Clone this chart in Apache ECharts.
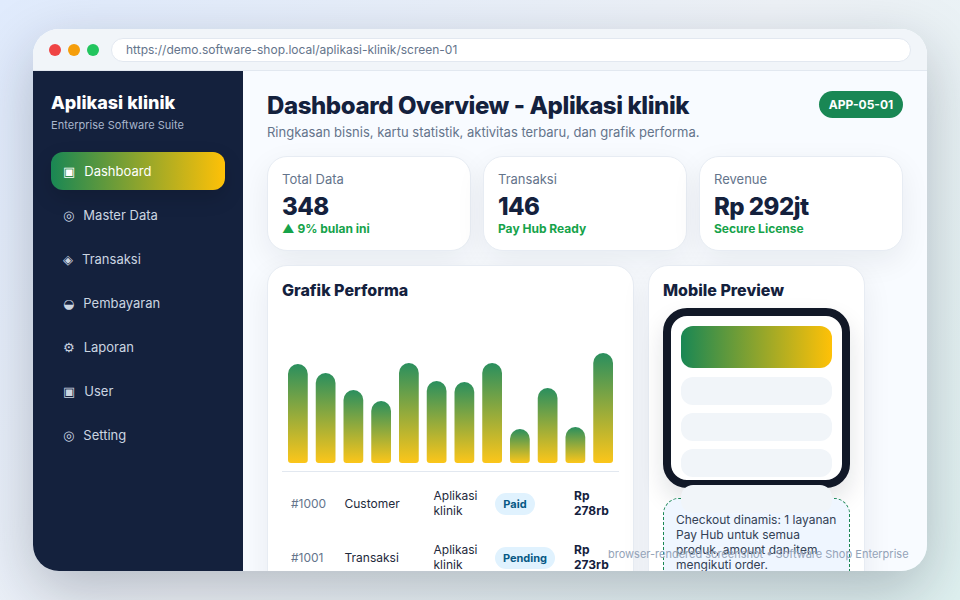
<!DOCTYPE html>
<html lang="id"><head><meta charset="utf-8">
<script src="https://cdn.jsdelivr.net/npm/echarts@6/dist/echarts.min.js"></script>
<style>
*{box-sizing:border-box}
html,body{margin:0;width:960px;height:600px;overflow:hidden;font-family:Inter,"DejaVu Sans",sans-serif;background:linear-gradient(135deg,#e0ebfd 0%,#eef2f7 50%,#dff1f0 100%)}
.win{position:absolute;left:33px;top:29px;width:894px;height:542px;border-radius:26px;overflow:hidden;background:#f8fbff}
.shadow{position:absolute;left:33px;top:29px;width:894px;height:542px;border-radius:26px;box-shadow:0 20px 60px rgba(15,23,42,.25)}
.top{position:absolute;left:0;top:0;width:894px;height:42px;background:#f1f5f9;border-bottom:1px solid #e2e8f0}
.dot{position:absolute;top:15px;width:12px;height:12px;border-radius:50%}
.url{position:absolute;left:78px;top:9px;width:800px;height:24px;border-radius:12px;background:#fff;border:1px solid #e2e8f0;color:#64748b;font-size:12px;line-height:22px;padding-left:14px}
.side{position:absolute;left:0;top:42px;width:210px;height:500px;background:#14213d}
.brand{position:absolute;left:18px;top:21px;color:#fff;font-size:18px;font-weight:800;line-height:22px}
.sub{position:absolute;left:18px;top:46px;color:#a9b6cc;font-size:11px;line-height:16px;letter-spacing:.03px}
.nav{position:absolute;left:18px;width:174px;height:38px;border-radius:12px;color:#cbd5e1;font-size:13px;line-height:38px;padding-left:12px;white-space:nowrap}
.nav i{font-style:normal;font-weight:700;display:inline-block;margin-right:9px}
.nav.on{background:linear-gradient(90deg,#198754,#ffc107);color:#fff;box-shadow:0 8px 20px rgba(0,0,0,.15)}
h1{position:absolute;left:234px;top:62px;margin:0;font-size:24px;line-height:30px;font-weight:800;letter-spacing:-.4px;color:#14213d;white-space:nowrap}
.lead{position:absolute;left:234px;top:94px;color:#64748b;font-size:13px;line-height:18px;white-space:nowrap}
.badge{position:absolute;left:786px;top:62px;width:84px;height:27px;border-radius:14px;background:#198754;color:#fff;font-size:12px;font-weight:700;line-height:27px;text-align:center}
.card{position:absolute;background:#fff;border:1px solid #e7ecf3;border-radius:20px;box-shadow:0 10px 30px rgba(15,23,42,.07)}
.stat{top:127px;height:95px}
.l{position:absolute;left:14px;top:13px;font-size:13px;line-height:18px;color:#64748b}
.v{position:absolute;left:14px;top:35px;font-size:24px;line-height:30px;font-weight:800;letter-spacing:-.55px;color:#14213d;white-space:nowrap}
.s{position:absolute;left:14px;top:63px;font-size:12px;line-height:18px;font-weight:700;color:#16a34a;white-space:nowrap}
.h{position:absolute;left:14px;top:13px;font-size:16px;line-height:22px;font-weight:800;color:#14213d;white-space:nowrap}
#chart{position:absolute;left:234px;top:274px;width:367px;height:170px}
.rule{position:absolute;left:249px;top:442px;width:337px;height:1px;background:#e2e8f0}
.t{position:absolute;font-size:12px;line-height:15px;color:#1e293b;white-space:nowrap}
.g{color:#64748b}.b{font-weight:700;color:#14213d}
.pill{position:absolute;height:22px;border-radius:11px;background:#e0f2fe;color:#075985;font-size:11px;font-weight:700;line-height:22px;text-align:center}
.phone{position:absolute;left:630px;top:279px;width:187px;height:180px;border:8px solid #111827;border-radius:24px;background:#fff;box-shadow:0 12px 25px rgba(15,23,42,.12)}
.bar{position:absolute;left:648px;width:151px;background:#f1f5f9;border-radius:12px}
.note{position:absolute;left:630px;top:469px;width:187px;height:100px;border:1px dashed #198754;border-radius:16px;background:#eff6ff}
.notetext{position:absolute;left:643px;top:483px;width:163px;color:#334155;font-size:12px;line-height:15px}
.foot{position:absolute;left:575px;top:517px;color:#94a3b8;font-size:11px;line-height:16px;white-space:nowrap}
</style></head><body>
<div class="shadow"></div>
<div class="win">
 <div class="top">
  <div class="dot" style="left:16px;background:#ef4444"></div>
  <div class="dot" style="left:35px;background:#f59e0b"></div>
  <div class="dot" style="left:54px;background:#22c55e"></div>
  <div class="url" id="url"></div>
 </div>
 <div class="side" id="side"><div class="brand" id="brand"></div><div class="sub" id="sub"></div></div>
 <h1 id="title"></h1><div class="lead" id="lead"></div><div class="badge" id="badge"></div>
 <div id="stats"></div>
 <div class="card" style="left:234px;top:236px;width:367px;height:340px"><div class="h">Grafik Performa</div></div>
 <div id="chart"></div>
 <div class="rule"></div>
 <div id="rows"></div>
 <div class="card" style="left:615px;top:236px;width:217px;height:340px"><div class="h">Mobile Preview</div></div>
 <div class="phone"></div>
 <div class="bar" style="top:297px;height:42px;background:linear-gradient(90deg,#198754,#ffc107)"></div>
 <div class="bar" style="top:348px;height:28px"></div>
 <div class="bar" style="top:384px;height:28px"></div>
 <div class="bar" style="top:420px;height:28px"></div>
 <div class="note"></div>
 <div class="bar" style="top:456px;height:28px"></div>
 <div class="notetext" id="note"></div>
 <div class="foot" id="foot"></div>
</div>
<script>
const urlText = "https://demo.software-shop.local/aplikasi-klinik/screen-01";
const navIcons = ["▣","◎","◈","◒","⚙","▣","◎"];
const navLabels = ["Dashboard","Master Data","Transaksi","Pembayaran","Laporan","User","Setting"];
const statLabels = ["Total Data","Transaksi","Revenue"];
const statValues = ["348","146","Rp 292jt"];
const statNotes = ["▲ 9% bulan ini","Pay Hub Ready","Secure License"];
const barCategories = ["1","2","3","4","5","6","7","8","9","10","11","12"];
const barValues = [99,90,73,62,100,82,81,100,34,75,36,110];
const rowIds = ["#1000","#1001"];
const rowTypes = ["Customer","Transaksi"];
const rowStatus = ["Paid","Pending"];
const rowAmounts = ["278rb","273rb"];

const $=id=>document.getElementById(id);
$("url").textContent=urlText;
$("brand").textContent="Aplikasi klinik";
$("sub").textContent="Enterprise Software Suite";
$("title").textContent="Dashboard Overview - Aplikasi klinik";
$("lead").textContent="Ringkasan bisnis, kartu statistik, aktivitas terbaru, dan grafik performa.";
$("badge").textContent="APP-05-01";
$("note").textContent="Checkout dinamis: 1 layanan Pay Hub untuk semua produk, amount dan item mengikuti order.";
$("foot").textContent="browser-rendered screenshot • Software Shop Enterprise";
navLabels.forEach((n,i)=>{
  const d=document.createElement("div");
  d.className="nav"+(i==0?" on":"");
  d.style.top=(81+44*i)+"px";
  const ic=document.createElement("i");ic.textContent=navIcons[i];
  d.appendChild(ic);d.appendChild(document.createTextNode(n));
  $("side").appendChild(d);
});
const xs=[234,450,666];
statLabels.forEach((n,i)=>{
  const c=document.createElement("div");
  c.className="card stat";c.style.left=xs[i]+"px";c.style.width="204px";
  c.innerHTML='<div class="l"></div><div class="v"></div><div class="s"></div>';
  c.children[0].textContent=n;c.children[1].textContent=statValues[i];c.children[2].textContent=statNotes[i];
  $("stats").appendChild(c);
});
const pillW=[40,60];
rowIds.forEach((id,i)=>{
  const y=54*i, add=(cls,x,top,txt)=>{const e=document.createElement("div");e.className=cls;e.style.left=x+"px";e.style.top=top+"px";e.textContent=txt;$("rows").appendChild(e);};
  add("t g",258,467+y,id);
  add("t",311.5,467+y,rowTypes[i]);
  add("t",400.5,459+y,"Aplikasi");add("t",400.5,474+y,"klinik");
  const p=document.createElement("div");p.className="pill";p.style.left="462px";p.style.top=(464+y)+"px";p.style.width=pillW[i]+"px";p.textContent=rowStatus[i];$("rows").appendChild(p);
  add("t b",541,459+y,"Rp");add("t b",541,474+y,rowAmounts[i]);
});
const chart=echarts.init($("chart"),null,{renderer:"svg"});
chart.setOption({
  animation:false,
  grid:{left:17,right:17,top:10,height:150},
  xAxis:{type:"category",data:barCategories,show:false},
  yAxis:{type:"value",min:0,max:150,show:false},
  series:[{type:"bar",data:barValues,barWidth:19.75,
    itemStyle:{borderRadius:[10,10,3,3],
      color:new echarts.graphic.LinearGradient(0,0,0,1,[{offset:0,color:"#2a8f5e"},{offset:1,color:"#fcc61a"}])}}]
});
</script>
</body></html>
